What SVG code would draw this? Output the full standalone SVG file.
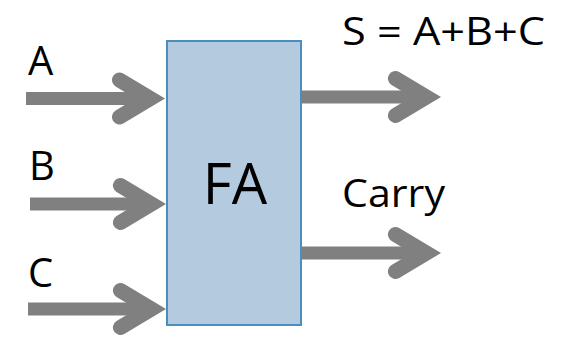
<svg xmlns="http://www.w3.org/2000/svg" width="572" height="337" viewBox="0 0 572 337">
<style>
.t{font-family:"Open Sans","Noto Sans","Liberation Sans",sans-serif;fill:#000}
.sh{stroke:#808080;stroke-width:13;fill:none;stroke-linecap:butt}
</style>
<defs>
<marker id="open" markerUnits="userSpaceOnUse" viewBox="-50 -35 80 70" markerWidth="80" markerHeight="70" refX="0" refY="0" orient="auto" overflow="visible">
<path d="M-31,-18.5 L0,0 L-31,18.5" fill="none" stroke="#808080" stroke-width="15" stroke-linecap="round" stroke-linejoin="miter"/>
</marker>
</defs>
<rect width="572" height="337" fill="#fff"/>
<g id="connectors">
<line class="sh" x1="26" y1="98.5" x2="150.4" y2="98.5" marker-end="url(#open)"/>
<line class="sh" x1="30" y1="204" x2="151.4" y2="204" marker-end="url(#open)"/>
<line class="sh" x1="28" y1="309" x2="151.4" y2="309" marker-end="url(#open)"/>
<line class="sh" x1="302" y1="97" x2="426.4" y2="97" marker-end="url(#open)"/>
<line class="sh" x1="302" y1="253" x2="426.4" y2="253" marker-end="url(#open)"/>
</g>
<g id="fa">
<rect x="167" y="41" width="134" height="284" fill="#b4cadf" stroke="#4a8dbf" stroke-width="2"/>
<text class="t" x="235" y="204" font-size="56" text-anchor="middle">FA</text>
</g>
<g id="labels">
<text class="t" x="28" y="75" font-size="40">A</text>
<text class="t" x="29" y="180" font-size="40">B</text>
<text class="t" x="28" y="287" font-size="40">C</text>
<text class="t" x="342" y="45" font-size="38" textLength="203" lengthAdjust="spacingAndGlyphs">S = A+B+C</text>
<text class="t" x="342" y="207" font-size="38" textLength="103" lengthAdjust="spacingAndGlyphs">Carry</text>
</g>
</svg>
